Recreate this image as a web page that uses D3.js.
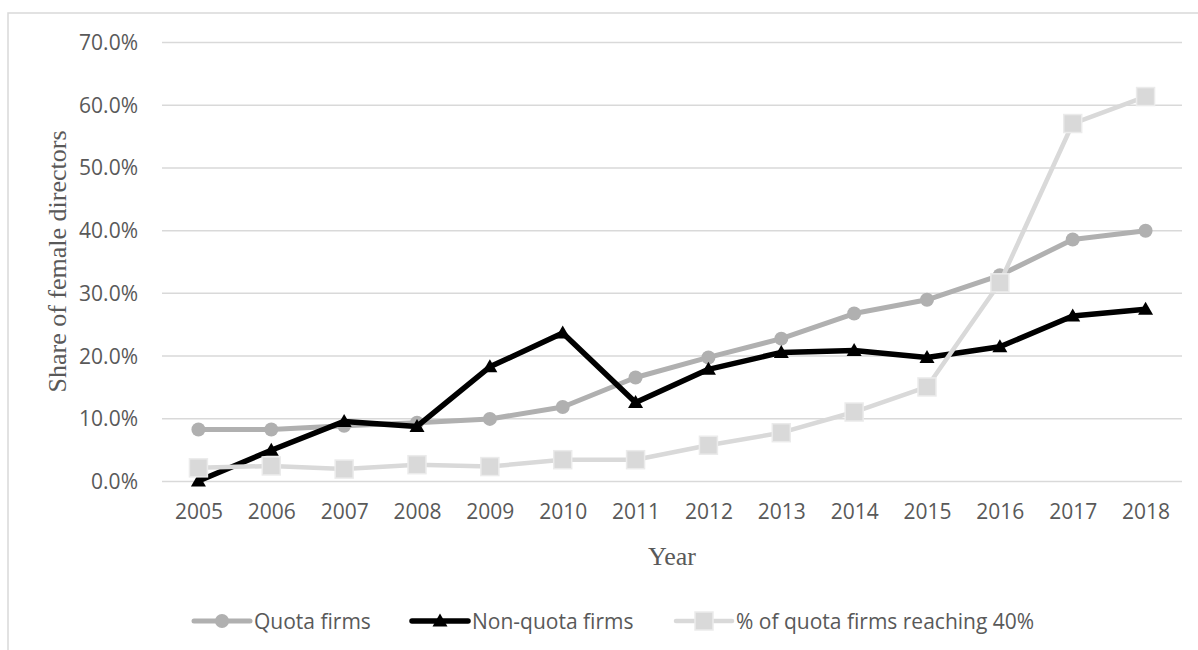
<!DOCTYPE html>
<html>
<head>
<meta charset="utf-8">
<script src="https://cdn.jsdelivr.net/npm/d3@7"></script>
<style>
  html, body { margin: 0; padding: 0; background: #ffffff; }
  svg { display: block; }
</style>
</head>
<body>
<svg id="chart" width="1198" height="650"></svg>
<script>
// Board composition by year
const years = [2005, 2006, 2007, 2008, 2009, 2010, 2011, 2012, 2013, 2014, 2015, 2016, 2017, 2018];
const quotaFirms = [0.082, 0.082, 0.088, 0.093, 0.099, 0.118, 0.165, 0.197, 0.227, 0.267, 0.289, 0.328, 0.385, 0.399];
const nonQuotaFirms = [0.000, 0.049, 0.095, 0.087, 0.182, 0.236, 0.125, 0.178, 0.205, 0.208, 0.197, 0.214, 0.263, 0.274];
const reaching40 = [0.021, 0.024, 0.019, 0.026, 0.023, 0.034, 0.034, 0.057, 0.077, 0.110, 0.150, 0.316, 0.570, 0.613];
const yTicks = [0, 0.1, 0.2, 0.3, 0.4, 0.5, 0.6, 0.7];
const seriesNames = ["Quota firms", "Non-quota firms", "% of quota firms reaching 40%"];

const svg = d3.select("#chart");
const tickFont = "'Open Sans', 'Liberation Sans', sans-serif";
const titleFont = "'Liberation Serif', 'DejaVu Serif', serif";
const textColor = "#595959";
const gridColor = "#d9d9d9";

// Chart frame
svg.append("rect")
  .attr("x", 8).attr("y", 13)
  .attr("width", 1198).attr("height", 700)
  .attr("fill", "none").attr("stroke", gridColor).attr("stroke-width", 1.5);

const plot = { left: 162, right: 1182, top: 42, bottom: 481 };

const x = d3.scalePoint().domain(years).range([plot.left, plot.right]).padding(0.5);
const y = d3.scaleLinear().domain([0, 0.7]).range([plot.bottom, plot.top]);

// Horizontal gridlines and y labels
const yAxis = d3.axisLeft(y).tickValues(yTicks)
  .tickSize(-(plot.right - plot.left))
  .tickPadding(24)
  .tickFormat(d3.format(".1%"));
const gy = svg.append("g").attr("transform", `translate(${plot.left},0)`).call(yAxis);
gy.select(".domain").remove();
gy.selectAll(".tick line").attr("stroke", gridColor).attr("stroke-width", 1.5);
gy.selectAll(".tick text")
  .attr("fill", textColor).attr("font-family", tickFont).attr("font-size", 21)
  .attr("dy", "0.36em");

// Year labels
const xAxis = d3.axisBottom(x).tickSize(0).tickPadding(0);
const gx = svg.append("g").attr("transform", `translate(0,${plot.bottom})`).call(xAxis);
gx.select(".domain").remove();
gx.selectAll(".tick text")
  .attr("fill", textColor).attr("font-family", tickFont).attr("font-size", 21)
  .attr("dy", null).attr("y", 38);

// Axis titles
svg.append("text")
  .attr("transform", `translate(66,${(plot.top + plot.bottom) / 2}) rotate(-90)`)
  .attr("text-anchor", "middle")
  .attr("font-family", titleFont).attr("font-size", 26).attr("fill", textColor)
  .text("Share of female directors");
svg.append("text")
  .attr("x", (plot.left + plot.right) / 2).attr("y", 565)
  .attr("text-anchor", "middle")
  .attr("font-family", titleFont).attr("font-size", 26).attr("fill", textColor)
  .text("Year");

// Marker shapes
const triPath = "M0,-7.5 L7.5,5.5 L-7.5,5.5 Z";
function drawMarker(g, kind, cx, cy) {
  if (kind === "circle") {
    g.append("circle").attr("cx", cx).attr("cy", cy).attr("r", 7)
      .attr("fill", "#b0b0b0");
  } else if (kind === "triangle") {
    g.append("path").attr("d", triPath)
      .attr("transform", `translate(${cx},${cy})`)
      .attr("fill", "#000000");
  } else {
    g.append("rect").attr("x", cx - 9).attr("y", cy - 9)
      .attr("width", 18).attr("height", 18)
      .attr("fill", "#d9d9d9").attr("stroke", "#ebebeb").attr("stroke-width", 1.5);
  }
}

const series = [
  { name: seriesNames[0], values: quotaFirms, color: "#b0b0b0", width: 5, marker: "circle" },
  { name: seriesNames[1], values: nonQuotaFirms, color: "#000000", width: 5.5, marker: "triangle" },
  { name: seriesNames[2], values: reaching40, color: "#d9d9d9", width: 4.5, marker: "square" }
];

const line = d3.line().x((d, i) => x(years[i])).y(d => y(d));

series.forEach(s => {
  const g = svg.append("g");
  g.append("path").datum(s.values)
    .attr("d", line)
    .attr("fill", "none").attr("stroke", s.color)
    .attr("stroke-width", s.width).attr("stroke-linejoin", "round");
  s.values.forEach((v, i) => drawMarker(g, s.marker, x(years[i]), y(v)));
});

// Legend
const legendItems = [
  { x0: 194, x1: 250, tx: 254 },
  { x0: 412, x1: 468, tx: 472 },
  { x0: 676, x1: 732, tx: 736 }
];
const legendY = 621;
series.forEach((s, i) => {
  const L = legendItems[i];
  const g = svg.append("g");
  g.append("line")
    .attr("x1", L.x0).attr("x2", L.x1).attr("y1", legendY).attr("y2", legendY)
    .attr("stroke", s.color).attr("stroke-width", s.width).attr("stroke-linecap", "round");
  drawMarker(g, s.marker, (L.x0 + L.x1) / 2, legendY);
  g.append("text")
    .attr("x", L.tx).attr("y", legendY).attr("dy", "0.36em")
    .attr("font-family", tickFont).attr("font-size", 21).attr("fill", textColor)
    .text(s.name);
});
</script>
</body>
</html>
